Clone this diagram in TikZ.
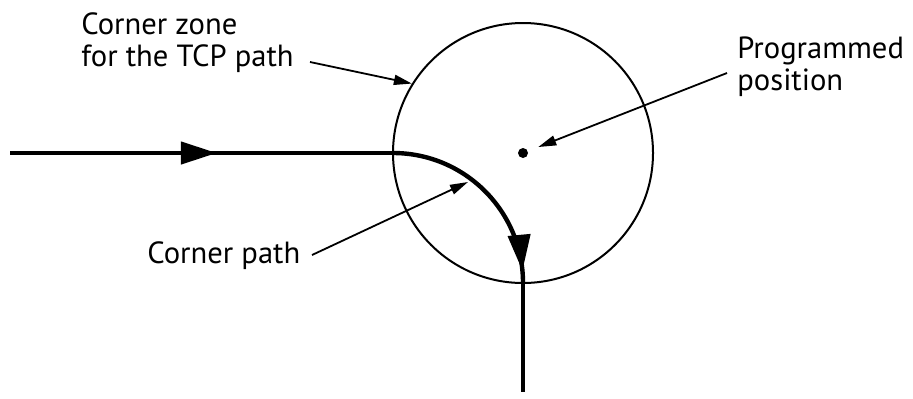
\documentclass[tikz,border=0pt]{standalone}
\usepackage{fontspec}
\setmainfont{PT Sans}
\usetikzlibrary{arrows.meta, decorations.markings}

\begin{document}
\begin{tikzpicture}[
    x=0.5pt, y=-0.5pt,
    every node/.style={font=\fontsize{15.3}{16}\selectfont},
    txt/.style={align=left, inner sep=0pt, anchor=north west},
    callout/.style={-{Triangle[length=9pt, width=5pt]}, line width=0.9pt},
    tcp/.style={line width=2.2pt},
    flow/.style={postaction={decorate}, decoration={markings,
        mark=at position #1 with {\arrow{Triangle[length=18pt, width=11pt]}}}}
]
\useasboundingbox (0,0) rectangle (913,398);

% corner zone round the programmed point
\node[draw, circle, line width=1pt, inner sep=0pt, minimum size=130pt] (zone) at (523,153) {};
\node[circle, fill, inner sep=0pt, minimum size=5pt] (target) at (523,153) {};

% TCP path
\coordinate (start) at (10,153);
\coordinate (entry) at (393,153);
\coordinate (end) at (523,392);
\draw[tcp, flow=0.54] (start) -- (entry);
\draw[tcp, flow=0.94] (entry) arc[start angle=-90, end angle=0, radius=130] coordinate (exit);
\draw[tcp] (exit) -- (end);

% labels
\node[txt] (zonelabel) at (81,12) {Corner zone\\for the TCP path};
\node[txt] (proglabel) at (737,36) {Programmed\\position};
\node[txt] (pathlabel) at (147,241) {Corner path};

\coordinate (zonetail) at (310,62);
\coordinate (progtail) at (727,73);
\coordinate (pathtail) at (312,255);
\coordinate (bend) at (468,182);
\draw[callout] (zonetail) -- (zone.148);
\draw[callout, shorten >=5.5pt] (progtail) -- (target);
\draw[callout] (pathtail) -- (bend);
\end{tikzpicture}
\end{document}
